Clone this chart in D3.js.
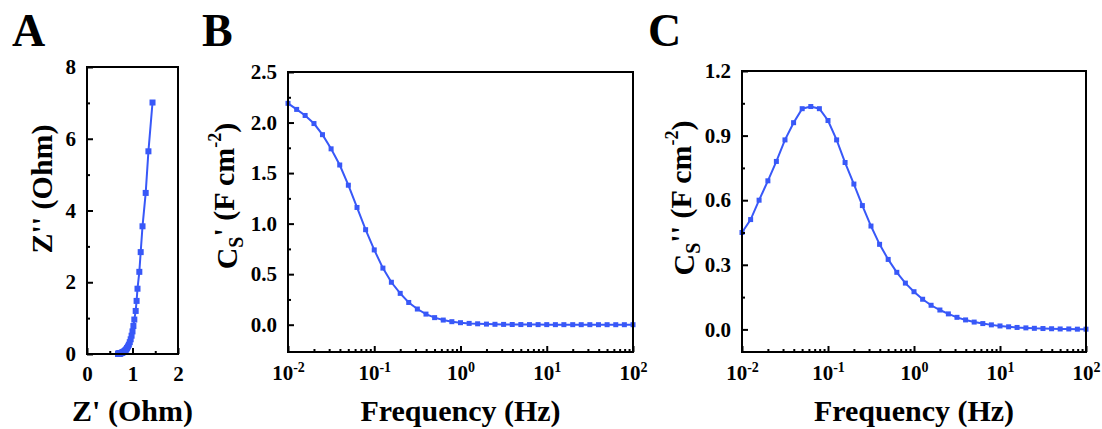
<!DOCTYPE html>
<html><head><meta charset="utf-8">
<script src="https://cdn.jsdelivr.net/npm/d3@7"></script>
<style>
html,body{margin:0;padding:0;background:#fff;}
</style></head>
<body><svg id="chart" width="1102" height="429"></svg>
<script>
// ---- Data ----
const nyquistZre = [1.44,1.35,1.29,1.22,1.18,1.15,1.11,1.09,1.07,1.04,1.02,1.00,0.98,0.96,0.94,0.92,0.90,0.88,0.865,0.85,0.835,0.82,0.805,0.79,0.78,0.77,0.76,0.75,0.74,0.73,0.725,0.72,0.715,0.71,0.705,0.70,0.695,0.69,0.688,0.686,0.684];
const nyquistZim = [7.01,5.65,4.49,3.56,2.84,2.29,1.82,1.48,1.20,0.96,0.78,0.63,0.51,0.41,0.33,0.26,0.21,0.17,0.135,0.11,0.09,0.075,0.062,0.052,0.044,0.037,0.031,0.026,0.022,0.019,0.016,0.014,0.012,0.010,0.009,0.008,0.007,0.006,0.005,0.004,0.003];
const frequency = [0.01,0.0126,0.0158,0.02,0.0251,0.0316,0.0398,0.0501,0.0631,0.0794,
  0.1,0.126,0.158,0.2,0.251,0.316,0.398,0.501,0.631,0.794,
  1,1.26,1.58,2,2.51,3.16,3.98,5.01,6.31,7.94,
  10,12.6,15.8,20,25.1,31.6,39.8,50.1,63.1,79.4,100];
const csReal = [2.19,2.13,2.07,1.99,1.88,1.74,1.58,1.38,1.16,0.94,
  0.74,0.56,0.42,0.31,0.22,0.155,0.105,0.07,0.046,0.03,
  0.02,0.013,0.009,0.006,0.004,0.003,0.002,0.0015,0.001,0.001,
  0.0008,0.0006,0.0005,0.0004,0.0003,0.0003,0.0002,0.0002,0.0001,0.0001,0.0001];
const csImag = [0.45,0.51,0.60,0.69,0.78,0.88,0.96,1.025,1.035,1.025,
  0.97,0.88,0.775,0.675,0.575,0.48,0.395,0.325,0.265,0.215,
  0.175,0.14,0.112,0.09,0.072,0.056,0.044,0.034,0.027,0.021,
  0.016,0.012,0.009,0.007,0.005,0.004,0.003,0.002,0.002,0.001,0.001];
const aXTicks = [0,1,2], aXMinor = [0.5,1.5];
const aYTicks = [0,2,4,6,8], aYMinor = [1,3,5,7];
const bYTicks = [0,0.5,1.0,1.5,2.0,2.5], bYMinor = [0.25,0.75,1.25,1.75,2.25];
const cYTicks = [0,0.3,0.6,0.9,1.2], cYMinor = [0.15,0.45,0.75,1.05];
const decadeTicks = [0.01,0.1,1,10,100];
const decadeExp = ["-2","-1","0","1","2"];

const FONT = "'Liberation Serif','Times New Roman',Times,'Nimbus Roman','DejaVu Serif',serif";
const color = "#3858f8";
const svg = d3.select("#chart");

function txt(sel, size){
  return sel.style("font-family",FONT).style("font-weight","bold").style("font-size",size+"px").attr("fill","#000");
}
function frame(g, x0, x1, y0, y1){
  g.append("rect").attr("x",x0).attr("y",y0).attr("width",x1-x0).attr("height",y1-y0)
   .attr("fill","none").attr("stroke","#000").attr("stroke-width",2);
}
function styleAxis(sel){
  sel.select(".domain").remove();
  sel.selectAll(".tick line").attr("stroke","#000").attr("stroke-width",2);
  txt(sel.selectAll(".tick text"), 21);
}
function yAxis(g, y, x0, major, minor, fmt){
  const a = g.append("g").attr("transform",`translate(${x0},0)`)
    .call(d3.axisLeft(y).tickValues(major).tickSize(-6).tickPadding(11).tickFormat(fmt));
  styleAxis(a);
  const m = g.append("g").attr("transform",`translate(${x0},0)`)
    .call(d3.axisLeft(y).tickValues(minor).tickSize(-3).tickFormat(""));
  styleAxis(m);
}
function series(g, x, y, xs, ys, size){
  const pts = xs.map((v,i)=>[x(v), y(ys[i])]);
  g.append("path").attr("d", d3.line()(pts)).attr("fill","none")
   .attr("stroke",color).attr("stroke-width",2);
  g.selectAll(null).data(pts).enter().append("rect")
   .attr("x",d=>d[0]-size/2).attr("y",d=>d[1]-size/2)
   .attr("width",size).attr("height",size).attr("fill",color);
}
function rotTitle(g, bx, cy, parts){
  const t = txt(g.append("text").attr("transform",`translate(${bx},${cy}) rotate(-90)`)
    .attr("text-anchor","middle"), 30);
  parts(t);
}

// ---- Panel A ----
{
  const x0=87,x1=178,y0=67,y1=354;
  const g = svg.append("g");
  const x = d3.scaleLinear().domain([0,2]).range([x0,x1]);
  const y = d3.scaleLinear().domain([0,8]).range([y1,y0]);
  series(g, x, y, nyquistZre, nyquistZim, 6);
  frame(g,x0,x1,y0,y1);
  yAxis(g, y, x0, aYTicks, aYMinor, d3.format("d"));
  const xa = g.append("g").attr("transform",`translate(0,${y1})`)
    .call(d3.axisBottom(x).tickValues(aXTicks).tickSize(-6).tickPadding(12).tickFormat(d3.format("d")));
  styleAxis(xa);
  const xm = g.append("g").attr("transform",`translate(0,${y1})`)
    .call(d3.axisBottom(x).tickValues(aXMinor).tickSize(-3).tickFormat(""));
  styleAxis(xm);
  txt(g.append("text").attr("x",(x0+x1)/2).attr("y",421).attr("text-anchor","middle"),30).text("Z' (Ohm)");
  rotTitle(g, 52, 189, t=>t.text("Z'' (Ohm)"));
  txt(g.append("text").attr("x",12).attr("y",46),46).text("A");
}

function logPanel(x0,x1,y0,y1,yDom,major,minor,vals,yfmt,letter,letterX,titleX,titleY,primes){
  const g = svg.append("g");
  const x = d3.scaleLog().domain([0.01,100]).range([x0,x1]);
  const y = d3.scaleLinear().domain(yDom).range([y1,y0]);
  series(g, x, y, frequency, vals, 5);
  frame(g,x0,x1,y0,y1);
  yAxis(g, y, x0, major, minor, yfmt);
  const xa = g.append("g").attr("transform",`translate(0,${y1})`)
    .call(d3.axisBottom(x).tickValues(decadeTicks).tickSize(-6).tickPadding(13).tickFormat(""));
  styleAxis(xa);
  xa.selectAll(".tick text").each(function(d,i){
    const t = d3.select(this);
    t.text("10");
    t.append("tspan").attr("dy","-0.55em").style("font-size","14px").text(decadeExp[i]);
  });
  const minorVals = [];
  decadeTicks.slice(0,4).forEach(d=>{ for(let k=2;k<=9;k++) minorVals.push(d*k); });
  const xm = g.append("g").attr("transform",`translate(0,${y1})`)
    .call(d3.axisBottom(x).tickValues(minorVals).tickSize(-3).tickFormat(""));
  styleAxis(xm);
  txt(g.append("text").attr("x",(x0+x1)/2).attr("y",421).attr("text-anchor","middle"),30).text("Frequency (Hz)");
  rotTitle(g, titleX, titleY, t=>{
    t.append("tspan").text("C");
    t.append("tspan").style("font-size","20px").attr("dy","0.3em").text("S");
    t.append("tspan").attr("dy","-0.3em").text(primes+" (F cm");
    t.append("tspan").style("font-size","18px").attr("dy","-0.7em").text("-2");
    t.append("tspan").attr("dy","0.45em").text(")");
  });
  txt(g.append("text").attr("x",letterX).attr("y",46),46).text(letter);
}
logPanel(288,633,72,352,[-0.27,2.5],bYTicks,bYMinor,csReal,d3.format(".1f"),"B",202,237,196,"'");
logPanel(742,1086,71,352,[-0.105,1.2],cYTicks,cYMinor,csImag,d3.format(".1f"),"C",648,694,198,"''");
</script></body></html>
